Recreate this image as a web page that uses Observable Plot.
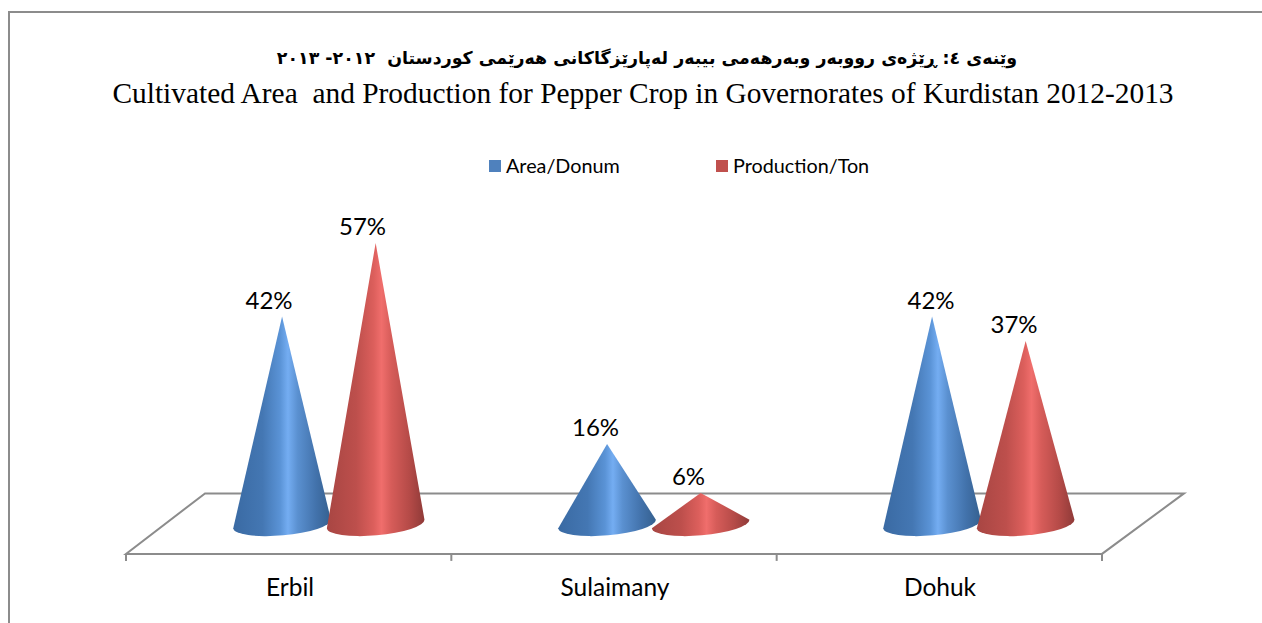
<!DOCTYPE html>
<html>
<head>
<meta charset="utf-8">
<script src="https://cdn.jsdelivr.net/npm/d3@7"></script>
<script src="https://cdn.jsdelivr.net/npm/@observablehq/plot@0.6"></script>
<style>
  html, body { margin: 0; padding: 0; background: #fff; }
  #page { position: relative; width: 1262px; height: 623px; overflow: hidden; background: #fff; }
  #frame { position: absolute; left: 8px; top: 11px; width: 1260px; height: 640px; border: 2px solid #8c8c8c; box-sizing: border-box; }
  .t { position: absolute; white-space: nowrap; color: #000; }
  #ku { left: 0; width: 1294px; top: 48px; text-align: center; direction: rtl; font: bold 17.4px "DejaVu Sans", sans-serif; }
  #en { left: 0; width: 1286px; top: 77px; text-align: center; font: 29.4px "Liberation Serif", serif; }
  .lg { top: 153px; font: 19.8px Lato, sans-serif; }
  .sw { position: absolute; top: 160px; width: 12px; height: 12px; }
  #chart { position: absolute; left: 0; top: 190px; }
</style>
</head>
<body>
<div id="page">
  <div id="frame"></div>
  <div class="t" id="ku" dir="rtl">وێنەی ٤: ڕێژەی رووبەر وبەرهەمی بیبەر لەپارێزگاکانی هەرێمی کوردستان&nbsp; ٢٠١٢- ٢٠١٣</div>
  <div class="t" id="en">Cultivated Area&nbsp; and Production for Pepper Crop in Governorates of Kurdistan 2012-2013</div>
  <div class="sw" style="left:489px;background:#4f81bd"></div>
  <div class="t lg" style="left:506px">Area/Donum</div>
  <div class="sw" style="left:716px;background:#c0504d"></div>
  <div class="t lg" style="left:733px">Production/Ton</div>
  <div id="chart"></div>
</div>
<script>
const categories = ["Erbil", "Sulaimany", "Dohuk"];
const seriesNames = ["Area/Donum", "Production/Ton"];
const areaValues = [42, 16, 42];
const productionValues = [57, 6, 37];

const rows = seriesNames.flatMap((series, s) =>
  categories.map((category, i) => ({
    category, series, value: (s === 0 ? areaValues : productionValues)[i]
  })));

// Layout constants of the pseudo-3D look (pixels)
const TOP = 190;
const OFFSET = {"Area/Donum": -7.6, "Production/Ton": 86};
const RX = 49, RY = 11.5, TILT = -5, BASE_DROP = 1.5;
const labelDx = {
  "Area/Donum": {Erbil: -21, Sulaimany: -19.5, Dohuk: -9},
  "Production/Ton": {Erbil: 72.5, Sulaimany: 73.5, Dohuk: 74}
};

function stops(grad, list) {
  for (const [o, c] of list) grad.append("stop").attr("offset", o).attr("stop-color", c);
}

function cones(index, scales, values, dims) {
  const g = d3.create("svg:g");
  const defs = g.append("defs");
  stops(defs.append("linearGradient").attr("id", "coneA"), [
    [0, "#3a6aa3"], [0.3, "#4477b3"], [0.48, "#5a93d6"], [0.56, "#74adf2"], [0.66, "#5a90d0"], [0.85, "#4272ab"], [1, "#35608f"]]);
  stops(defs.append("linearGradient").attr("id", "coneB"), [
    [0, "#a84643"], [0.3, "#bd4f4c"], [0.48, "#dc5f5c"], [0.56, "#f06e6c"], [0.66, "#d65c59"], [0.85, "#b44a47"], [1, "#8f3a38"]]);
  const step = (dims.width - dims.marginLeft - dims.marginRight) / categories.length;
  for (const i of index) {
    const d = rows[i];
    const cx = values.x[i] + step / 2 + OFFSET[d.series];
    const cy = values.y1[i] + BASE_DROP;
    const apexY = values.y2[i];
    const rad = TILT * Math.PI / 180;
    const ex = RX * Math.cos(rad), ey = RX * Math.sin(rad);
    g.append("path")
      .attr("fill", d.series === seriesNames[0] ? "url(#coneA)" : "url(#coneB)")
      .attr("d", `M${cx},${apexY}L${cx + ex},${cy + ey}A${RX},${RY},${TILT},1,1,${cx - ex},${cy - ey}Z`);
  }
  return g.node();
}

function floor(index, scales, values, dims) {
  const left = dims.marginLeft, right = dims.width - dims.marginRight;
  const y0 = scales.y(0);
  const front = y0 + 31.5, back = y0 - 29;
  const step = (right - left) / categories.length;
  const g = d3.create("svg:g").attr("fill", "none").attr("stroke", "#8c8c8c").attr("stroke-width", 2);
  g.append("path").attr("d", `M${left},${front}L${right},${front}L${right + 82},${back}L${left + 79},${back}Z`);
  for (let i = 0; i <= categories.length; ++i) {
    const x = left + i * step;
    g.append("path").attr("d", `M${x},${front}V${front + 7}`);
  }
  return g.node();
}

const chart = Plot.plot({
  width: 1262,
  height: 433,
  marginLeft: 126,
  marginRight: 160,
  marginTop: 38,
  marginBottom: 100,
  x: {type: "band", domain: categories, padding: 0, axis: null},
  y: {domain: [0, 60], range: [522.4 - TOP, 228.3 - TOP], axis: null},
  style: {background: "transparent", overflow: "visible"},
  marks: [
    floor,
    Plot.barY(rows, {x: "category", y1: 0, y2: "value", render: cones}),
    ...rows.map(d => Plot.text([d], {
      x: "category", y: "value", text: r => r.value + "%",
      dx: labelDx[d.series][d.category], dy: -15.8,
      fontSize: 24, fontFamily: "Lato, sans-serif", fill: "#000"
    })),
    Plot.text(categories, {
      x: d => d, frameAnchor: "bottom", dy: 72,
      text: d => d, fontSize: 24.5, fontFamily: "Lato, sans-serif", fill: "#000"
    })
  ]
});
document.getElementById("chart").appendChild(chart);
</script>
</body>
</html>
